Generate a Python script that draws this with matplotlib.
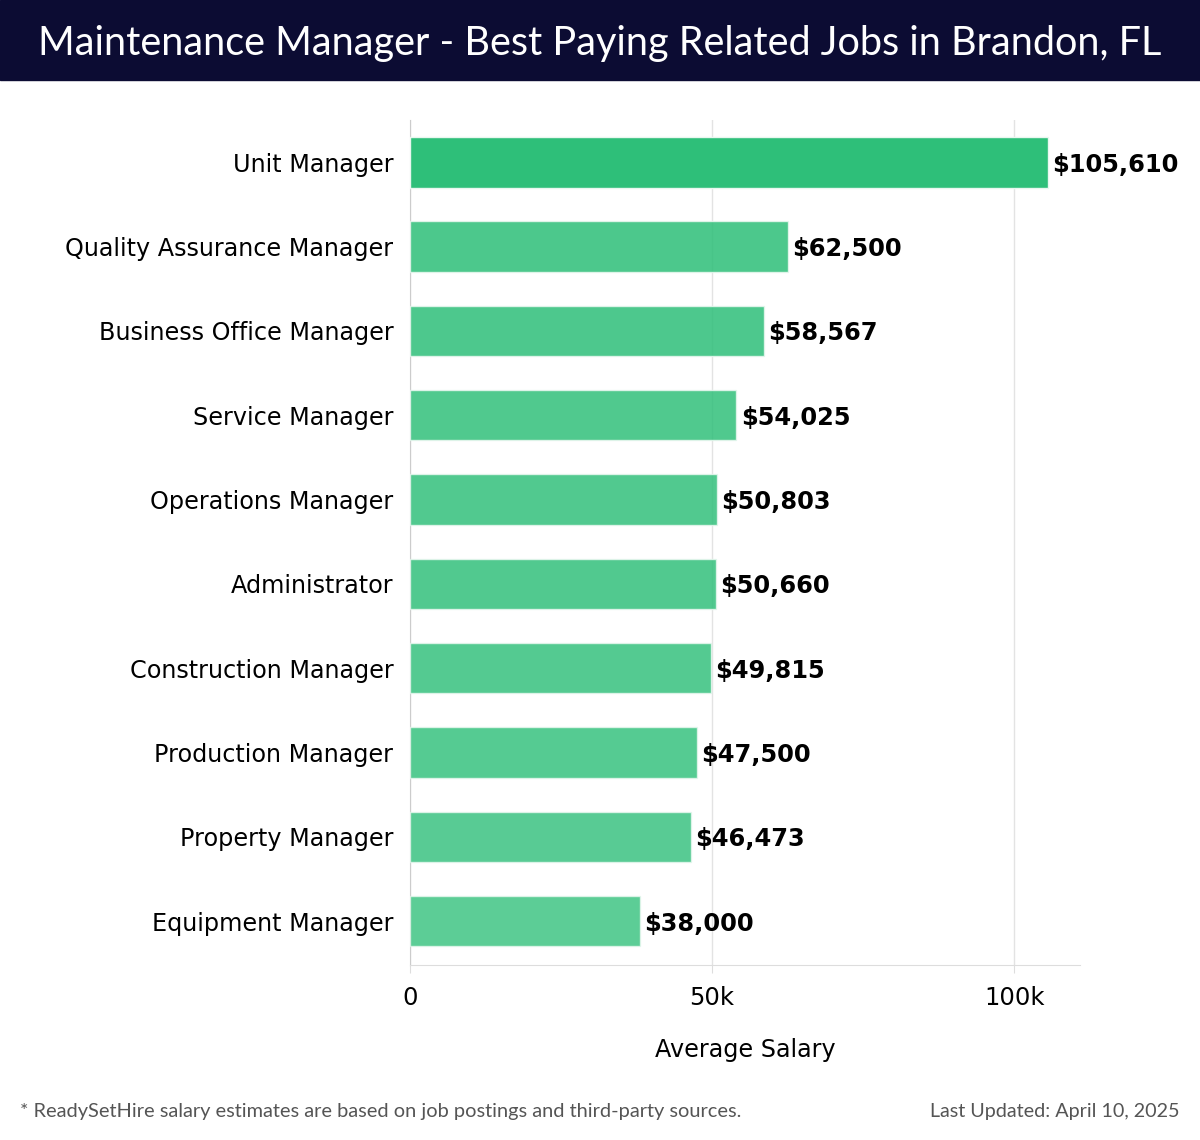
import matplotlib
matplotlib.use("Agg")
import matplotlib.pyplot as plt
from matplotlib.patches import Rectangle
from matplotlib.ticker import FuncFormatter

jobs = ["Unit Manager", "Quality Assurance Manager", "Business Office Manager",
        "Service Manager", "Operations Manager", "Administrator",
        "Construction Manager", "Production Manager", "Property Manager",
        "Equipment Manager"]
salaries = [105610, 62500, 58567, 54025, 50803, 50660, 49815, 47500, 46473, 38000]
alphas = [1.0, 0.86, 0.85, 0.84, 0.83, 0.83, 0.82, 0.81, 0.8, 0.78]

title = "Maintenance Manager - Best Paying Related Jobs in Brandon, FL"
footnote = "* ReadySetHire salary estimates are based on job postings and third-party sources."
updated = "Last Updated: April 10, 2025"

fig = plt.figure(figsize=(12, 11.4), dpi=100)
ax = fig.add_axes([0.3417, 0.1535, 0.5583, 0.7412])

pos = list(range(len(jobs)))
for i, (v, a) in enumerate(zip(salaries, alphas)):
    ax.barh(i, v, height=0.6, color="#2ebf79", alpha=a, edgecolor="#e8f7ef",
            linewidth=1, zorder=3)
    ax.text(v + 700, i, "${:,}".format(v), va="center_baseline", ha="left",
            fontsize=17.4, fontweight="bold", color="black", zorder=4)

ax.set_ylim(len(jobs) - 0.48, -0.5)
ax.set_xlim(0, max(salaries) * 1.05)
ax.set_yticks(pos)
ax.set_yticklabels(jobs, fontsize=17.2)
ax.set_xticks([0, 50000, 100000])
ax.xaxis.set_major_formatter(FuncFormatter(lambda x, p: "0" if x == 0 else "%dk" % (x / 1000)))
ax.tick_params(axis="x", labelsize=17.5, length=6, color="#dddddd", pad=9)
ax.tick_params(axis="y", length=0, pad=12)
ax.grid(axis="x", color="#e3e3e3", linewidth=1, zorder=0)
for s in ["top", "right"]:
    ax.spines[s].set_visible(False)
ax.spines["left"].set_color("#cccccc")
ax.spines["bottom"].set_color("#dddddd")
ax.set_xlabel("Average Salary", fontsize=17.2, labelpad=20)

# title bar
fig.patches.append(Rectangle((0, 1 - 80 / 1140), 1, 80 / 1140, transform=fig.transFigure,
                             color="#0c0c33", zorder=0))
fig.text(0.5, 1 - 44 / 1140, title, ha="center", va="center", color="white",
         fontsize=28.5, family="Lato")

fig.text(20 / 1200, 1 - 1112 / 1140, footnote, ha="left", va="center",
         fontsize=14.4, color="#555555", family="Lato")
fig.text(1180 / 1200, 1 - 1112 / 1140, updated, ha="right", va="center",
         fontsize=14.2, color="#555555", family="Lato")

fig.savefig("out.png", dpi=100)
